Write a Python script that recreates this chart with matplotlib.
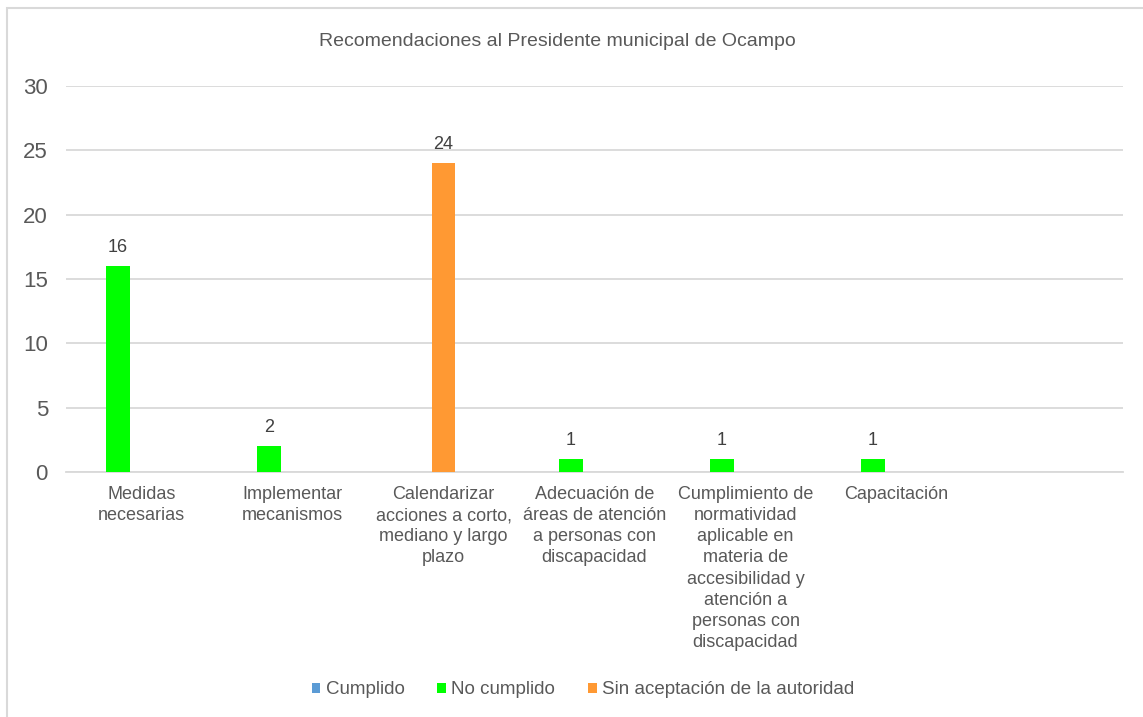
import numpy as np
import matplotlib.pyplot as plt
from matplotlib.patches import Rectangle

plt.rcParams['font.family'] = ['Liberation Sans', 'DejaVu Sans']

title = "Recomendaciones al Presidente municipal de Ocampo"
categories = [
    "Medidas\nnecesarias",
    "Implementar\nmecanismos",
    "Calendarizar\nacciones a corto,\nmediano y largo\nplazo",
    "Adecuación de\náreas de atención\na personas con\ndiscapacidad",
    "Cumplimiento de\nnormatividad\naplicable en\nmateria de\naccesibilidad y\natención a\npersonas con\ndiscapacidad",
    "Capacitación",
    "",
]
cumplido = [0, 0, 0, 0, 0, 0, 0]
no_cumplido = [16, 2, 0, 1, 1, 1, 0]
sin_aceptacion = [0, 0, 24, 0, 0, 0, 0]
series_names = ["Cumplido", "No cumplido", "Sin aceptación de la autoridad"]
colors = ["#5B9BD5", "#00FF00", "#FF9933"]

text_col = "#595959"
grid_col = "#D9D9D9"

W, H = 1143, 717
fig = plt.figure(figsize=(W / 100, H / 100), dpi=100)
ax = fig.add_axes([66 / W, 1 - 472 / H, (1123 - 66) / W, (472 - 86) / H])

x = np.arange(len(categories))
w = 0.155
# order of offsets as seen in the picture
offsets = [w, -w, 0]
data = [cumplido, no_cumplido, sin_aceptacion]
handles = []
for vals, off, col, name in zip(data, offsets, colors, series_names):
    bars = ax.bar(x + off, vals, width=w, color=col, label=name, zorder=3)
    handles.append(bars)
    for xi, v in zip(x + off, vals):
        if v > 0:
            ax.annotate(str(v), (xi, v), xytext=(0, 10), textcoords="offset points",
                        ha="center", va="baseline", fontsize=13, color="#404040")

ax.set_xlim(-0.5, len(categories) - 0.5)
ax.set_ylim(0, 30)
ax.set_yticks([0, 5, 10, 15, 20, 25, 30])
ax.set_xticks(x)
ax.set_xticklabels(categories, fontsize=13, color=text_col, linespacing=1.32)
ax.tick_params(axis="y", length=0, labelsize=16, labelcolor=text_col, pad=13)
ax.tick_params(axis="x", length=0, pad=10)
ax.grid(axis="y", color=grid_col, linewidth=1.3, zorder=0)
for s in ["top", "right", "left"]:
    ax.spines[s].set_visible(False)
ax.spines["bottom"].set_color(grid_col)
ax.spines["bottom"].set_linewidth(1.3)

fig.text(557 / W, 1 - 42 / H, title, ha="center", va="center", fontsize=14, color=text_col)

fig.legend(handles=handles, labels=series_names, loc="center", bbox_to_anchor=(583 / W, 1 - 690 / H),
           ncol=3, frameon=False, fontsize=13.5, labelcolor=text_col,
           handlelength=0.45, handleheight=0.45, handletextpad=0.3, columnspacing=1.75)

fig.patches.append(Rectangle((7 / W, -0.1), 2, 1.1 - 8 / H, transform=fig.transFigure,
                             fill=False, edgecolor=grid_col, linewidth=1.5))

plt.savefig("out.png", dpi=100)
